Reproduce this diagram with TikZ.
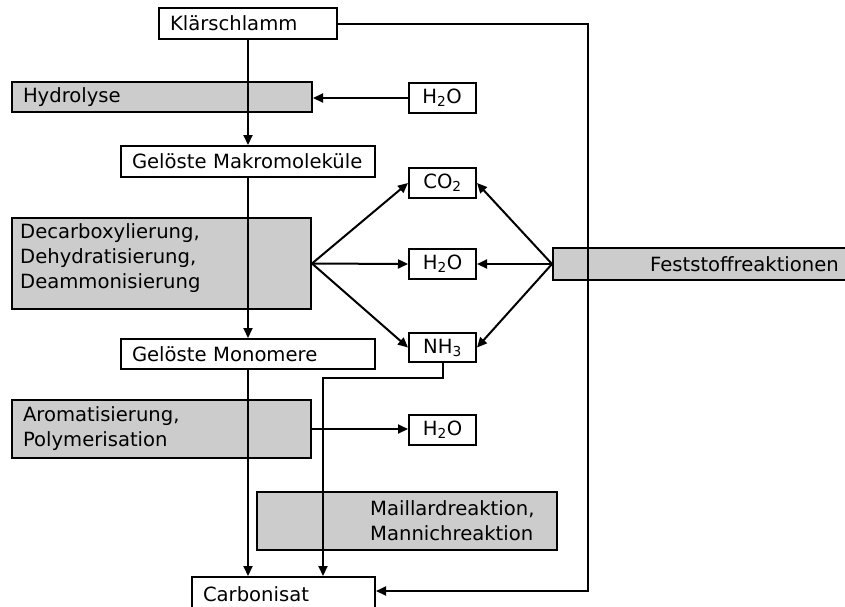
\documentclass[tikz,border=0pt]{standalone}
\usepackage{fontspec}
\setmainfont{DejaVu Sans}
\usetikzlibrary{arrows.meta}
\definecolor{boxgray}{RGB}{204,204,204}
\begin{document}
\begin{tikzpicture}[x=1pt,y=-1pt,
  every node/.style={font=\fontsize{19.6}{25}\selectfont},
  bx/.style={draw, line width=2pt, fill=white, inner xsep=11pt, inner ysep=0pt, align=left},
  sbx/.style={draw, line width=2pt, fill=white, inner sep=0pt, minimum width=67pt, minimum height=30pt, align=center},
  gbx/.style={bx, fill=boxgray},
  arr/.style={line width=2pt, -{Triangle[length=10pt,width=9pt]}},
  ln/.style={line width=2pt}]
\fill[white] (0,0) rectangle (845,606);
\useasboundingbox (0,0) rectangle (845,606);
% gray process boxes
\node[gbx, text width=278pt, minimum height=30pt] (hyd) at (162,97) {Hydrolyse};
\node[gbx, text width=277pt, minimum height=91pt] (dec) at (161.5,263.5) {};
\node[anchor=west, align=left, inner sep=0pt] (dectxt) at (20,258.5) {Decarboxylierung,\\Dehydratisierung,\\Deammonisierung};
\node[gbx, text width=277pt, minimum height=58pt] (aro) at (161.5,429) {Aromatisierung,\\Polymerisation};
\node[gbx, text width=278pt, minimum height=58pt] (mai) at (407,521) {};
\node[anchor=west, align=left, inner sep=0pt] (maitxt) at (370,521) {Maillardreaktion,\\Mannichreaktion};
\node[gbx, text width=275pt, minimum height=32pt] (fest) at (701.5,264) {};
\node[anchor=east, inner sep=0pt] (festtxt) at (839,264) {Feststoffreaktionen};
% white boxes
\node[bx, text width=156pt, minimum height=31pt] (kl) at (248,23.5) {Klärschlamm};
\node[bx, text width=232pt, minimum height=31pt] (mak) at (248,161.5) {Gelöste Makromoleküle};
\node[bx, text width=232pt, minimum height=30pt] (mon) at (248,354) {Gelöste Monomere};
\node[bx, text width=161pt, minimum height=34pt] (carb) at (283.5,594) {Carbonisat};
\node[sbx] (h2oa) at (442,98) {H\textsubscript{2}O};
\node[sbx] (co2) at (442.5,183) {CO\textsubscript{2}};
\node[sbx] (h2ob) at (442.5,264) {H\textsubscript{2}O};
\node[sbx, minimum height=29pt] (nh3) at (442.5,347.5) {NH\textsubscript{3}};
\node[sbx] (h2oc) at (442.5,430) {H\textsubscript{2}O};
% helper points
\coordinate (cb) at (588,591);
\coordinate (nk) at (323,378);
% connectors
\draw[arr] (kl.south) -- (mak.north);
\draw[arr] (h2oa.west) -- (h2oa.west -| hyd.east);
\draw[arr] (mak.south) -- (mon.north);
\draw[arr] (dec.east) -- (co2.west);
\draw[arr] (dec.east) -- (h2ob.west);
\draw[arr] (dec.east) -- (nh3.west);
\draw[arr] (fest.west) -- (co2.east);
\draw[arr] (fest.west) -- (h2ob.east);
\draw[arr] (fest.west) -- (nh3.east);
\draw[arr] (aro.east) -- (aro.east -| h2oc.west);
\draw[arr] (mon.south) -- (mon.south |- carb.north);
\draw[arr] (nh3.south) |- (nk) -- (nk |- carb.north);
\draw[arr] (kl.east) -| (cb) -- (cb -| carb.east);
\end{tikzpicture}
\end{document}
